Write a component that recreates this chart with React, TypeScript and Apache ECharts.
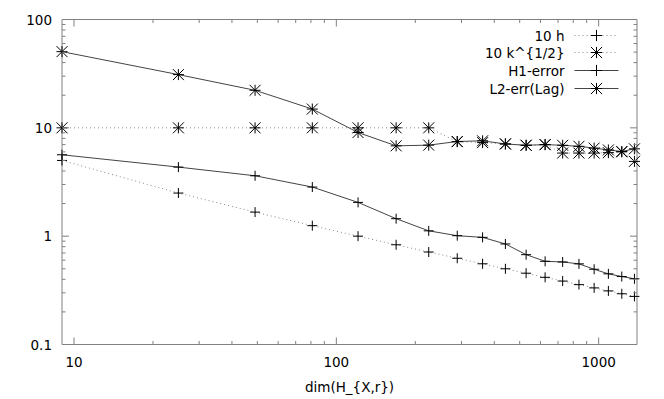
import React, { useEffect, useRef } from "react";
import * as echarts from "echarts";

const dims = [9, 25, 49, 81, 121, 169, 225, 289, 361, 441, 529, 625, 729, 841, 961, 1089, 1225, 1369];
const tenH = [5, 2.5, 1.667, 1.25, 1.0, 0.833, 0.714, 0.625, 0.556, 0.5, 0.455, 0.417, 0.385, 0.357, 0.333, 0.3125, 0.294, 0.278];
const tenSqrtK = [10, 10, 10, 10, 10, 10, 10, 7.45, 7.3, 7.1, 6.9, 7.0, 5.85, 5.85, 5.85, 5.9, 6.0, 4.9];
const h1Error = [5.64, 4.34, 3.61, 2.84, 2.05, 1.45, 1.12, 1.01, 0.975, 0.847, 0.675, 0.586, 0.578, 0.555, 0.495, 0.449, 0.424, 0.404];
const l2Err = [50.5, 31, 22.2, 14.9, 9.05, 6.82, 6.92, 7.48, 7.59, 7.1, 6.9, 7.0, 6.9, 6.75, 6.5, 6.25, 6.05, 6.4];

const seriesNames = ["10 h", "10 k^{1/2}", "H1-error", "L2-err(Lag)"];

const xMajorTicks = [10, 100, 1000];
const xMinorTicks = [20, 30, 40, 50, 60, 70, 80, 90, 200, 300, 400, 500, 600, 700, 800, 900];
const yMajorTicks = [1, 10];
const yMinorTicks = [0.2, 0.3, 0.4, 0.5, 0.6, 0.7, 0.8, 0.9, 2, 3, 4, 5, 6, 7, 8, 9, 20, 30, 40, 50, 60, 70, 80, 90];

const X_MIN = 9;
const X_MAX = 1400;
const Y_MIN = 0.1;
const Y_MAX = 100;

const FONT = "DejaVu Sans";
const PLUS = "path://M0,5L10,5M5,0L5,10";
const STAR = "path://M0,5L10,5M5,0L5,10M0,0L10,10M10,0L0,10";

export default function App() {
  const ref = useRef<HTMLDivElement>(null);
  useEffect(() => {
    if (!ref.current) return;
    const chart = echarts.init(ref.current, null, { renderer: "svg" });

    const mk = (vals: number[]) => dims.map((d, i) => [d, vals[i]]);
    const symStyle = { color: "rgba(0,0,0,0)", borderColor: "#000", borderWidth: 1 };

    const xTickData = [
      ...xMajorTicks.map((v) => [v, 1, 1]),
      ...xMinorTicks.map((v) => [v, 1, 0]),
    ];
    const yTickData = [
      ...yMajorTicks.map((v) => [10, v, 1]),
      ...yMinorTicks.map((v) => [10, v, 0]),
    ];
    const tickStyle = { stroke: "#808080", lineWidth: 1 };

    const legendTops = [28.5, 45.5, 63.5, 81.5];

    chart.setOption({
      animation: false,
      backgroundColor: "#fff",
      grid: {
        left: 62,
        right: 27,
        top: 19.5,
        bottom: 54.5,
        show: true,
        borderColor: "#808080",
        borderWidth: 1,
        backgroundColor: "transparent",
      },
      legend: seriesNames.map((n, i) => ({
        data: [n],
        orient: "vertical",
        right: 45,
        top: legendTops[i],
        padding: 0,
        align: "right",
        itemWidth: 44,
        itemHeight: 14,
        selectedMode: false,
        itemStyle: { borderWidth: 1 },
        lineStyle: { width: 1 },
        textStyle: { fontFamily: FONT, fontSize: 13.5, color: "#000", padding: [0, 5, 0, 0] },
      })),
      xAxis: {
        type: "log",
        logBase: 10,
        min: X_MIN,
        max: X_MAX,
        name: "dim(H_{X,r})",
        nameLocation: "middle",
        nameGap: 35,
        nameTextStyle: { fontFamily: FONT, fontSize: 13.5, color: "#000" },
        axisLine: { show: false },
        axisTick: { show: false },
        splitLine: { show: false },
        minorTick: { show: false },
        axisLabel: {
          fontFamily: FONT,
          fontSize: 13.5,
          color: "#000",
          margin: 10,
          showMinLabel: false,
          showMaxLabel: false,
          formatter: (v: number) => String(Math.round(v)),
        },
      },
      yAxis: {
        type: "log",
        logBase: 10,
        min: Y_MIN,
        max: Y_MAX,
        axisLine: { show: false },
        axisTick: { show: false },
        splitLine: { show: false },
        axisLabel: {
          fontFamily: FONT,
          fontSize: 13.5,
          color: "#000",
          margin: 10,
          formatter: (v: number) => (v < 1 ? String(Number(v.toPrecision(3))) : String(Math.round(v))),
        },
      },
      series: [
        {
          name: seriesNames[0],
          type: "line",
          data: mk(tenH),
          symbol: PLUS,
          symbolSize: 10,
          itemStyle: symStyle,
          lineStyle: { color: "#888", width: 1, type: [1, 3] },
          z: 3,
        },
        {
          name: seriesNames[1],
          type: "line",
          data: mk(tenSqrtK),
          symbol: STAR,
          symbolSize: 11,
          itemStyle: symStyle,
          lineStyle: { color: "#888", width: 1, type: [1, 3] },
          z: 3,
        },
        {
          name: seriesNames[2],
          type: "line",
          data: mk(h1Error),
          symbol: PLUS,
          symbolSize: 10,
          itemStyle: symStyle,
          lineStyle: { color: "#444", width: 1 },
          z: 4,
        },
        {
          name: seriesNames[3],
          type: "line",
          data: mk(l2Err),
          symbol: STAR,
          symbolSize: 11,
          itemStyle: symStyle,
          lineStyle: { color: "#444", width: 1 },
          z: 4,
        },
        {
          type: "custom",
          silent: true,
          clip: false,
          z: 5,
          data: xTickData,
          renderItem: (params: any, api: any) => {
            const x = api.value(0);
            const major = api.value(2) === 1;
            const len = major ? 7 : 3.5;
            const b = api.coord([x, Y_MIN]);
            const t = api.coord([x, Y_MAX]);
            return {
              type: "group",
              children: [
                { type: "line", shape: { x1: b[0], y1: b[1], x2: b[0], y2: b[1] - len }, style: tickStyle },
                { type: "line", shape: { x1: t[0], y1: t[1], x2: t[0], y2: t[1] + len }, style: tickStyle },
              ],
            };
          },
        },
        {
          type: "custom",
          silent: true,
          clip: false,
          z: 5,
          data: yTickData,
          renderItem: (params: any, api: any) => {
            const y = api.value(1);
            const major = api.value(2) === 1;
            const len = major ? 7 : 3.5;
            const l = api.coord([X_MIN, y]);
            const r = api.coord([X_MAX, y]);
            return {
              type: "group",
              children: [
                { type: "line", shape: { x1: l[0], y1: l[1], x2: l[0] + len, y2: l[1] }, style: tickStyle },
                { type: "line", shape: { x1: r[0], y1: r[1], x2: r[0] - len, y2: r[1] }, style: tickStyle },
              ],
            };
          },
        },
      ],
    });
    return () => chart.dispose();
  }, []);
  return <div ref={ref} style={{ width: 664, height: 399, position: "absolute", left: 0, top: 0 }} />;
}
